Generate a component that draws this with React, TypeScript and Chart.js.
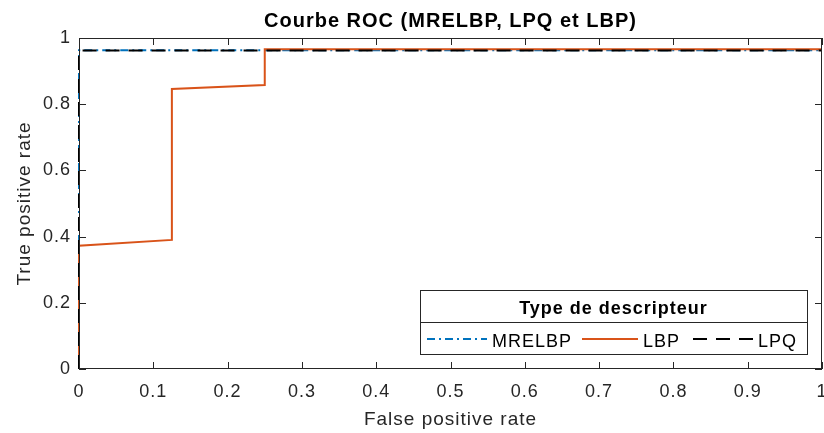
import React, { useEffect, useRef } from "react";
import { Chart, registerables } from "chart.js";

Chart.register(...registerables);

const TITLE = "Courbe ROC (MRELBP, LPQ et LBP)";
const X_LABEL = "False positive rate";
const Y_LABEL = "True positive rate";
const LEGEND_TITLE = "Type de descripteur";

const mrelbpName = "MRELBP";
const mrelbpFpr = [0, 0, 1];
const mrelbpTpr = [0, 0.963, 0.963];

const lbpName = "LBP";
const lbpFpr = [0, 0, 0.125, 0.125, 0.25, 0.25, 1];
const lbpTpr = [0, 0.3725, 0.39, 0.846, 0.858, 0.966, 0.966];

const lpqName = "LPQ";
const lpqFpr = [0, 0, 1];
const lpqTpr = [0, 0.962, 0.962];

const xTicks = [0, 0.1, 0.2, 0.3, 0.4, 0.5, 0.6, 0.7, 0.8, 0.9, 1];
const yTicks = [0, 0.2, 0.4, 0.6, 0.8, 1];

const AXIS_COLOR = "#262626";
const FONT = "'Liberation Sans', Arial, Helvetica, sans-serif";

const toPoints = (xs: number[], ys: number[]) => xs.map((x, i) => ({ x, y: ys[i] }));
const fmt = (v: number) => String(Number(v.toFixed(1)));

const spacingPlugin = {
  id: "spacing",
  beforeUpdate(chart: any) {
    chart.ctx.letterSpacing = "1px";
  },
  beforeLayout(chart: any) {
    chart.ctx.letterSpacing = "1px";
  },
  beforeDraw(chart: any) {
    chart.ctx.letterSpacing = "1px";
  },
};

const decorPlugin = {
  id: "decor",
  afterDraw(chart: any) {
    const ctx = chart.ctx;
    const { left, right, top, bottom } = chart.chartArea;
    const xs = chart.scales.x;
    const ys = chart.scales.y;
    ctx.save();
    ctx.letterSpacing = "1px";
    // box
    ctx.strokeStyle = AXIS_COLOR;
    ctx.lineWidth = 1;
    ctx.setLineDash([]);
    ctx.strokeRect(left + 0.5, top + 0.5, right - left - 1, bottom - top - 1);
    const tl = 7;
    ctx.beginPath();
    xTicks.forEach((v) => {
      const px = Math.round(xs.getPixelForValue(v)) + 0.5;
      ctx.moveTo(px, bottom);
      ctx.lineTo(px, bottom - tl);
      ctx.moveTo(px, top);
      ctx.lineTo(px, top + tl);
    });
    yTicks.forEach((v) => {
      const py = Math.round(ys.getPixelForValue(v)) + 0.5;
      ctx.moveTo(left, py);
      ctx.lineTo(left + tl, py);
      ctx.moveTo(right, py);
      ctx.lineTo(right - tl, py);
    });
    ctx.stroke();

    // title
    ctx.fillStyle = "#000000";
    ctx.font = `bold 20px ${FONT}`;
    ctx.textAlign = "center";
    ctx.textBaseline = "alphabetic";
    ctx.fillText(TITLE, (left + right) / 2, 27);

    // legend
    const lx = 420, ly = 290, lw = 387, lh = 64;
    ctx.fillStyle = "#ffffff";
    ctx.fillRect(lx, ly, lw, lh);
    ctx.strokeStyle = AXIS_COLOR;
    ctx.lineWidth = 1;
    ctx.strokeRect(lx + 0.5, ly + 0.5, lw, lh);
    ctx.beginPath();
    ctx.moveTo(lx, ly + 32.5);
    ctx.lineTo(lx + lw, ly + 32.5);
    ctx.stroke();
    ctx.fillStyle = "#000000";
    ctx.font = `bold 18px ${FONT}`;
    ctx.textAlign = "center";
    ctx.fillText(LEGEND_TITLE, lx + lw / 2, 314);

    const entries = chart.data.datasets.map((d: any) => d);
    const layout: Record<string, [number, number, number]> = {
      [mrelbpName]: [427, 487, 492],
      [lbpName]: [582, 638, 643],
      [lpqName]: [693, 753, 758],
    };
    ctx.font = `18px ${FONT}`;
    ctx.textAlign = "left";
    entries.forEach((d: any) => {
      const pos = layout[d.label];
      if (!pos) return;
      ctx.strokeStyle = d.borderColor;
      ctx.lineWidth = d.borderWidth;
      ctx.setLineDash(d.borderDash || []);
      ctx.beginPath();
      ctx.moveTo(pos[0], 339);
      ctx.lineTo(pos[1], 339);
      ctx.stroke();
      ctx.setLineDash([]);
      ctx.fillStyle = "#000000";
      ctx.fillText(d.label, pos[2], 347);
    });
    ctx.restore();
  },
};

export default function App() {
  const ref = useRef<HTMLCanvasElement>(null);
  useEffect(() => {
    document.body.style.margin = "0";
    const canvas = ref.current!;
    const chart = new Chart(canvas, {
      type: "scatter",
      data: {
        datasets: [
          {
            label: lpqName,
            data: toPoints(lpqFpr, lpqTpr),
            showLine: true,
            borderColor: "#000000",
            borderWidth: 2,
            borderDash: [14, 9],
            pointRadius: 0,
            fill: false,
            clip: false,
          },
          {
            label: lbpName,
            data: toPoints(lbpFpr, lbpTpr),
            showLine: true,
            borderColor: "#D95319",
            borderWidth: 2,
            pointRadius: 0,
            fill: false,
            clip: false,
          },
          {
            label: mrelbpName,
            data: toPoints(mrelbpFpr, mrelbpTpr),
            showLine: true,
            borderColor: "#0072BD",
            borderWidth: 2,
            borderDash: [8, 4, 2, 4],
            pointRadius: 0,
            fill: false,
            clip: false,
          },
        ] as any,
      },
      options: {
        animation: false,
        responsive: false,
        devicePixelRatio: 1,
        layout: { padding: { top: 38, right: 2, left: 0, bottom: 0 } },
        plugins: {
          legend: { display: false },
          title: { display: false },
          tooltip: { enabled: false },
        },
        scales: {
          x: {
            type: "linear",
            min: 0,
            max: 1,
            grid: { display: false, drawTicks: false },
            border: { display: false },
            afterBuildTicks: (s: any) => {
              s.ticks = xTicks.map((v) => ({ value: v }));
            },
            afterFit: (s: any) => {
              s.height = 64;
              s.paddingLeft = 0;
              s.paddingRight = 0;
            },
            ticks: {
              padding: 12,
              maxRotation: 0,
              autoSkip: false,
              color: AXIS_COLOR,
              font: { family: FONT, size: 18 },
              callback: (v: any) => fmt(Number(v)),
            },
            title: {
              display: true,
              text: X_LABEL,
              color: AXIS_COLOR,
              font: { family: FONT, size: 19 },
              padding: { top: 2, bottom: 2 },
            },
          },
          y: {
            type: "linear",
            min: 0,
            max: 1,
            grid: { display: false, drawTicks: false },
            border: { display: false },
            afterBuildTicks: (s: any) => {
              s.ticks = yTicks.map((v) => ({ value: v }));
            },
            afterFit: (s: any) => {
              s.width = 79;
              s.paddingTop = 0;
              s.paddingBottom = 0;
            },
            ticks: {
              padding: 8,
              autoSkip: false,
              color: AXIS_COLOR,
              font: { family: FONT, size: 18 },
              callback: (v: any) => fmt(Number(v)),
            },
            title: {
              display: true,
              text: Y_LABEL,
              color: AXIS_COLOR,
              font: { family: FONT, size: 19 },
              padding: { top: 13, bottom: 0 },
            },
          },
        },
      },
      plugins: [spacingPlugin, decorPlugin],
    });
    return () => chart.destroy();
  }, []);
  return (
    <div style={{ width: 824, height: 433 }}>
      <canvas ref={ref} width={824} height={433} style={{ display: "block", width: 824, height: 433 }} />
    </div>
  );
}
